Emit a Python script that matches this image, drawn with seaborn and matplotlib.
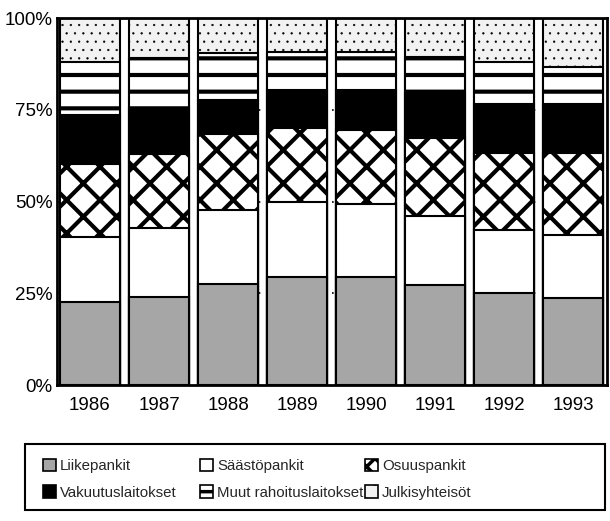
import numpy as np
import pandas as pd
import matplotlib
matplotlib.use("Agg")
import matplotlib.pyplot as plt
from matplotlib.patches import Patch, Rectangle
import seaborn as sns

# shares (%) per year
years = ["1986", "1987", "1988", "1989", "1990", "1991", "1992", "1993"]
liikepankit = [22.7, 23.9, 27.5, 29.3, 29.5, 27.2, 25.0, 23.8]
saastopankit = [17.7, 18.8, 20.2, 20.6, 19.8, 18.8, 17.2, 17.1]
osuuspankit = [19.8, 20.2, 20.7, 20.0, 20.2, 21.2, 20.9, 22.2]
vakuutuslaitokset = [13.4, 12.5, 9.3, 10.5, 10.9, 12.3, 13.6, 13.6]
muut = [14.5, 13.6, 12.7, 10.4, 10.4, 10.0, 11.4, 10.0]
julkisyhteisot = [11.9, 11.0, 9.6, 9.2, 9.2, 10.5, 11.9, 13.3]

labels = ["Liikepankit", "Säästöpankit", "Osuuspankit",
          "Vakuutuslaitokset", "Muut rahoituslaitokset", "Julkisyhteisöt"]
series = [liikepankit, saastopankit, osuuspankit, vakuutuslaitokset, muut, julkisyhteisot]
styles = [
    dict(color="#a6a6a6", hatch=None, hlw=3.0),
    dict(color="white", hatch=None, hlw=3.0),
    dict(color="white", hatch="x", hlw=3.0),
    dict(color="black", hatch=None, hlw=3.0),
    dict(color="white", hatch="-", hlw=3.0),
    dict(color="#f2f2f2", hatch="..", hlw=0.4),
]

df = pd.DataFrame({"year": years})
cum = np.cumsum(np.array(series), axis=0)
for lab, c in zip(labels, cum):
    df[lab] = c

sns.set_style("white")
plt.rcParams["font.family"] = ["Liberation Sans Narrow", "Liberation Sans", "DejaVu Sans"]

fig = plt.figure(figsize=(6.1, 5.21), dpi=100)
ax = fig.add_axes([57 / 610, 136 / 521, 550 / 610, 367 / 521])

# dotted reference lines that only show through the gaps
for yv in [25, 50, 75]:
    ax.axhline(yv, color="black", lw=1.2, ls=(0, (1, 10)), zorder=0)

# draw cumulative totals from the top layer downwards
for i in range(len(labels) - 1, -1, -1):
    st = styles[i]
    plt.rcParams["hatch.linewidth"] = st["hlw"]
    sns.barplot(data=df, x="year", y=labels[i], color=st["color"], saturation=1,
                edgecolor="black", linewidth=1.5, width=0.87, errorbar=None,
                hatch=st["hatch"], ax=ax, zorder=2)

ax.set_xlim(-0.478, 7.49)
ax.set_ylim(0, 100)
ax.set_yticks([0, 25, 50, 75, 100])
ax.set_yticklabels(["0%", "25%", "50%", "75%", "100%"])
ax.set_xlabel("")
ax.set_ylabel("")
ax.tick_params(axis="both", length=0, labelsize=13.5, colors="black")
ax.tick_params(axis="x", pad=9)
ax.tick_params(axis="y", pad=3)
for s in ax.spines.values():
    s.set_visible(True)
    s.set_color("black")
    s.set_linewidth(2)

# legend: framed box with three columns
fig.add_artist(Rectangle((25 / 610, 11 / 521), 580 / 610, 66 / 521,
                         transform=fig.transFigure, fill=False, lw=1.5, ec="black"))
legend_hatch = {None: None, "x": "xx", "-": "-", "..": "."}
col_x = [30, 187, 352]
for k in range(3):
    idx = [k, k + 3]
    hs = [Patch(facecolor=styles[j]["color"], edgecolor="black",
                hatch=legend_hatch[styles[j]["hatch"]], lw=1.2, label=labels[j])
          for j in idx]
    leg = fig.legend(handles=hs, loc="upper left",
                     bbox_to_anchor=(col_x[k] / 610, 1 - 446 / 521),
                     frameon=False, fontsize=10.8, handlelength=0.9, handleheight=0.9,
                     handletextpad=0.25, labelspacing=0.8, borderpad=0.35)
    for h, j in zip(leg.legend_handles, idx):
        if hasattr(h, "set_hatch_linewidth"):
            h.set_hatch_linewidth(2.5 if styles[j]["hlw"] > 1 else 1.0)

fig.savefig("out.png", dpi=100)
